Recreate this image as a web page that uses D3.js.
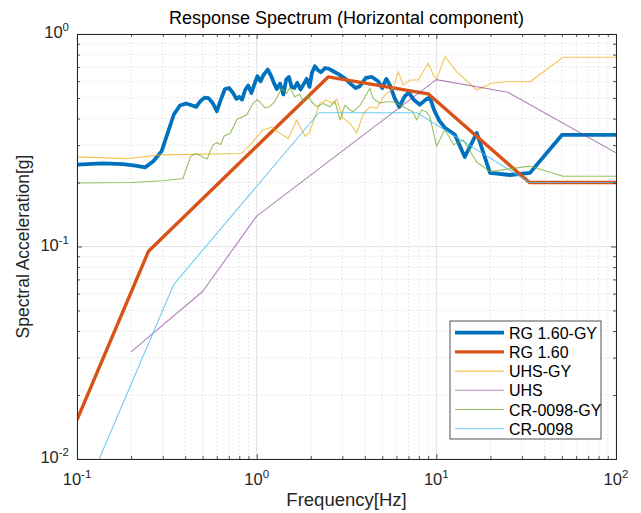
<!DOCTYPE html>
<html>
<head>
<meta charset="utf-8">
<script src="https://cdn.jsdelivr.net/npm/d3@7"></script>
<style>
  body { margin: 0; background: #fff; }
  svg { display: block; font-family: "Liberation Sans", Arial, sans-serif; }
</style>
</head>
<body>
<svg id="chart" width="641" height="513"></svg>
<script>
// series: [frequency Hz, spectral acceleration g]
const rgGy = [[0.1,0.243],[0.138,0.246],[0.18,0.244],[0.211,0.24],[0.24,0.236],[0.266,0.252],[0.296,0.281],[0.32,0.343],[0.346,0.418],[0.374,0.461],[0.405,0.471],[0.438,0.461],[0.461,0.454],[0.486,0.483],[0.513,0.502],[0.54,0.499],[0.569,0.474],[0.6,0.433],[0.632,0.491],[0.666,0.551],[0.702,0.557],[0.739,0.528],[0.771,0.495],[0.8,0.506],[0.829,0.491],[0.865,0.548],[0.897,0.572],[0.935,0.528],[0.97,0.578],[1.01,0.633],[1.05,0.599],[1.095,0.644],[1.153,0.68],[1.202,0.637],[1.247,0.589],[1.294,0.551],[1.349,0.584],[1.408,0.519],[1.46,0.61],[1.514,0.628],[1.563,0.564],[1.621,0.557],[1.682,0.589],[1.754,0.548],[1.82,0.578],[1.898,0.615],[1.968,0.564],[2.03,0.656],[2.107,0.705],[2.197,0.675],[2.279,0.661],[2.402,0.692],[2.53,0.685],[2.667,0.668],[2.884,0.644],[3.119,0.615],[3.373,0.578],[3.556,0.557],[3.748,0.568],[4.054,0.621],[4.384,0.628],[4.742,0.599],[4.998,0.557],[5.27,0.615],[5.55,0.568],[5.85,0.5],[6.22,0.454],[6.67,0.509],[7.03,0.53],[7.5,0.49],[8.1,0.465],[8.7,0.49],[9.2,0.505],[9.7,0.44],[10.4,0.39],[11.2,0.361],[12.7,0.335],[14.4,0.264],[16.8,0.342],[19.9,0.222],[25.7,0.217],[33.2,0.222],[50,0.335],[100,0.335]];
const rg160 = [[0.1,0.0153],[0.25,0.095],[2.5,0.628],[9,0.523],[33,0.2],[100,0.2]];
const uhsGy = [[0.1,0.264],[0.19,0.259],[0.29,0.27],[0.5,0.272],[0.825,0.274],[0.95,0.31],[1.08,0.353],[1.21,0.364],[1.35,0.341],[1.5,0.322],[1.67,0.394],[1.86,0.33],[1.97,0.345],[2.11,0.408],[2.25,0.472],[2.45,0.489],[2.61,0.472],[2.79,0.493],[3.03,0.401],[3.31,0.38],[3.6,0.341],[3.92,0.42],[4.27,0.455],[4.66,0.447],[5.18,0.516],[5.75,0.555],[6.14,0.665],[6.54,0.575],[7.13,0.607],[7.93,0.607],[9.02,0.728],[9.62,0.641],[10.04,0.612],[11.17,0.782],[12.97,0.665],[16.76,0.545],[20.3,0.586],[24.6,0.596],[33.2,0.596],[50.8,0.777],[100,0.777]];
const uhs = [[0.2,0.0319],[0.5,0.0614],[1,0.139],[10,0.61],[25,0.532],[100,0.276]];
const crGy = [[0.1,0.199],[0.2,0.2],[0.3,0.204],[0.389,0.209],[0.428,0.265],[0.455,0.274],[0.485,0.268],[0.53,0.258],[0.57,0.3],[0.6,0.308],[0.63,0.302],[0.66,0.331],[0.713,0.341],[0.777,0.397],[0.88,0.416],[0.95,0.47],[1.0,0.49],[1.04,0.48],[1.11,0.45],[1.18,0.455],[1.26,0.48],[1.38,0.555],[1.47,0.526],[1.53,0.56],[1.63,0.507],[1.74,0.52],[1.81,0.48],[1.93,0.516],[2.02,0.48],[2.16,0.455],[2.35,0.471],[2.56,0.455],[2.73,0.48],[2.91,0.394],[3.1,0.463],[3.3,0.44],[3.45,0.431],[3.77,0.463],[4.27,0.555],[4.44,0.498],[4.85,0.472],[5.27,0.48],[5.73,0.48],[6.27,0.463],[6.8,0.447],[7.4,0.431],[7.77,0.394],[8.28,0.439],[8.8,0.43],[9.2,0.41],[10.03,0.296],[11.14,0.354],[12.5,0.301],[14.1,0.318],[16.75,0.25],[19.9,0.225],[33.1,0.239],[50.6,0.214],[100,0.214]];
const cr0098 = [[0.1,0.0057],[0.346,0.0664],[2.22,0.426],[7.8,0.426],[33,0.2],[100,0.2]];

const seriesNames = ["RG 1.60-GY", "RG 1.60", "UHS-GY", "UHS", "CR-0098-GY", "CR-0098"];
const xTicks = [0.1, 1, 10, 100];
const xTickExp = ["-1", "0", "1", "2"];
const yTicks = [0.01, 0.1, 1];
const yTickExp = ["-2", "-1", "0"];

// thin lines look washed out in the reference, so they get some transparency
const series = [
  { name: seriesNames[0], data: rgGy, color: "#0072BD", width: 3.8, op: 1 },
  { name: seriesNames[1], data: rg160, color: "#D95319", width: 3.4, op: 1 },
  { name: seriesNames[2], data: uhsGy, color: "#EDB120", width: 1.1, op: 0.75 },
  { name: seriesNames[3], data: uhs, color: "#7E2F8E", width: 1.1, op: 0.6 },
  { name: seriesNames[4], data: crGy, color: "#77AC30", width: 1.1, op: 0.75 },
  { name: seriesNames[5], data: cr0098, color: "#4DBEEE", width: 1.1, op: 0.8 }
];

const svg = d3.select("#chart");
const margin = { top: 34, right: 25, bottom: 54, left: 77 };
const W = 641, H = 513;
const innerW = W - margin.left - margin.right;
const innerH = H - margin.top - margin.bottom;

const x = d3.scaleLog().domain([0.1, 100]).range([0, innerW]);
const y = d3.scaleLog().domain([0.01, 1]).range([innerH, 0]);

const g = svg.append("g").attr("transform", `translate(${margin.left},${margin.top})`);

// minor values 2..9 per decade
const minorX = [];
[0.1, 1, 10].forEach(d => { for (let k = 2; k <= 9; k++) minorX.push(d * k); });
const minorY = [];
[0.01, 0.1].forEach(d => { for (let k = 2; k <= 9; k++) minorY.push(d * k); });

// grid
const grid = g.append("g").attr("class", "grid");
grid.selectAll(".mx").data(minorX).enter().append("line")
  .attr("x1", d => x(d)).attr("x2", d => x(d)).attr("y1", 0).attr("y2", innerH)
  .attr("stroke", "#c8c8c8").attr("stroke-dasharray", "1,3").attr("stroke-width", 0.8);
grid.selectAll(".my").data(minorY).enter().append("line")
  .attr("y1", d => y(d)).attr("y2", d => y(d)).attr("x1", 0).attr("x2", innerW)
  .attr("stroke", "#c8c8c8").attr("stroke-dasharray", "1,3").attr("stroke-width", 0.8);
grid.selectAll(".Mx").data(xTicks).enter().append("line")
  .attr("x1", d => x(d)).attr("x2", d => x(d)).attr("y1", 0).attr("y2", innerH)
  .attr("stroke", "#e3e3e3").attr("stroke-width", 1);
grid.selectAll(".My").data(yTicks).enter().append("line")
  .attr("y1", d => y(d)).attr("y2", d => y(d)).attr("x1", 0).attr("x2", innerW)
  .attr("stroke", "#e3e3e3").attr("stroke-width", 1);

// lines
svg.append("defs").append("clipPath").attr("id", "plotClip")
  .append("rect").attr("width", innerW).attr("height", innerH);

const line = d3.line().x(d => x(d[0])).y(d => y(d[1]));
const lines = g.append("g").attr("clip-path", "url(#plotClip)");
series.forEach(s => {
  lines.append("path")
    .datum(s.data)
    .attr("fill", "none")
    .attr("stroke", s.color)
    .attr("stroke-opacity", s.op)
    .attr("stroke-width", s.width)
    .attr("stroke-linejoin", "round")
    .attr("d", line);
});

// axes: ticks inside, on all four sides
const axisCol = "#262626";
function styleAxis(ax) {
  ax.select(".domain").attr("stroke", axisCol).attr("stroke-width", 1);
  ax.selectAll(".tick line").attr("stroke", axisCol).attr("stroke-width", 0.8);
  ax.selectAll("text").remove();
}
g.append("g").attr("transform", `translate(0,${innerH})`)
  .call(d3.axisBottom(x).tickValues(xTicks).tickSize(-5).tickSizeOuter(0)).call(styleAxis);
g.append("g").attr("transform", `translate(0,${innerH})`)
  .call(d3.axisBottom(x).tickValues(minorX).tickSize(-3).tickSizeOuter(0)).call(styleAxis);
g.append("g")
  .call(d3.axisTop(x).tickValues(xTicks).tickSize(-5).tickSizeOuter(0)).call(styleAxis);
g.append("g")
  .call(d3.axisTop(x).tickValues(minorX).tickSize(-3).tickSizeOuter(0)).call(styleAxis);
g.append("g")
  .call(d3.axisLeft(y).tickValues(yTicks).tickSize(-5).tickSizeOuter(0)).call(styleAxis);
g.append("g")
  .call(d3.axisLeft(y).tickValues(minorY).tickSize(-3).tickSizeOuter(0)).call(styleAxis);
g.append("g").attr("transform", `translate(${innerW},0)`)
  .call(d3.axisRight(y).tickValues(yTicks).tickSize(-5).tickSizeOuter(0)).call(styleAxis);
g.append("g").attr("transform", `translate(${innerW},0)`)
  .call(d3.axisRight(y).tickValues(minorY).tickSize(-3).tickSizeOuter(0)).call(styleAxis);

// tick labels with superscript exponents
const tickCol = "#262626";
xTicks.forEach((v, i) => {
  const t = g.append("text")
    .attr("x", x(v)).attr("y", innerH + 26)
    .attr("text-anchor", "middle")
    .attr("fill", tickCol)
    .style("font-size", "16.5px");
  t.append("tspan").text("10");
  t.append("tspan").attr("dy", -7).style("font-size", "11.5px").text(xTickExp[i]);
});
yTicks.forEach((v, i) => {
  const t = g.append("text")
    .attr("x", -8).attr("y", y(v) + 4)
    .attr("text-anchor", "end")
    .attr("fill", tickCol)
    .style("font-size", "16.5px");
  t.append("tspan").text("10");
  t.append("tspan").attr("dy", -7).style("font-size", "11.5px").text(yTickExp[i]);
});

// titles
svg.append("text")
  .attr("x", margin.left + innerW / 2).attr("y", 24)
  .attr("text-anchor", "middle").attr("fill", "#000")
  .style("font-size", "18px")
  .text("Response Spectrum (Horizontal component)");
svg.append("text")
  .attr("x", margin.left + innerW / 2).attr("y", 506)
  .attr("text-anchor", "middle").attr("fill", "#262626")
  .style("font-size", "18.5px")
  .text("Frequency[Hz]");
svg.append("text")
  .attr("transform", `translate(29,${margin.top + innerH / 2}) rotate(-90)`)
  .attr("text-anchor", "middle").attr("fill", "#262626")
  .style("font-size", "17.5px")
  .text("Spectral Acceleration[g]");

// legend
const leg = g.append("g").attr("transform", `translate(${450 - margin.left},${321 - margin.top})`);
leg.append("rect")
  .attr("width", 151).attr("height", 118)
  .attr("fill", "#fff").attr("stroke", axisCol).attr("stroke-width", 0.8);
series.forEach((s, i) => {
  const yy = 11.7 + i * 19.2;
  leg.append("line")
    .attr("x1", 5).attr("x2", 54).attr("y1", yy).attr("y2", yy)
    .attr("stroke", s.color).attr("stroke-opacity", s.op).attr("stroke-width", s.width);
  leg.append("text")
    .attr("x", 59).attr("y", yy + 6)
    .attr("fill", "#000")
    .style("font-size", "16px")
    .text(s.name);
});
</script>
</body>
</html>
